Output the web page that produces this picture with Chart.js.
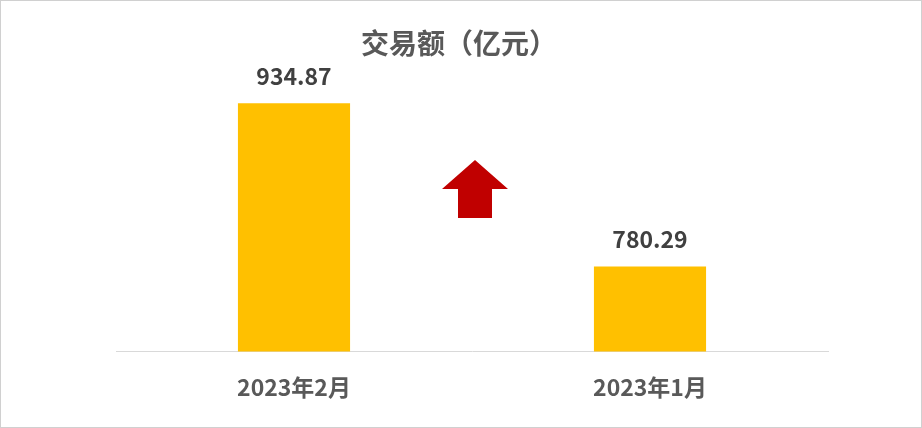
<!DOCTYPE html>
<html>
<head>
<meta charset="utf-8">
<script src="https://cdn.jsdelivr.net/npm/chart.js@4/dist/chart.umd.min.js"></script>
<style>
    html, body { margin: 0; padding: 0; background: #fff; }
    #wrap {
        width: 922px;
        height: 428px;
        box-sizing: border-box;
        border: 1px solid #D0D0D0;
        position: relative;
    }
</style>
</head>
<body>
<div id="wrap"><canvas id="tradeChart" width="920" height="426"></canvas></div>
<script>
const months = ["2023年2月", "2023年1月"];
const tradeValues = [934.87, 780.29];
const chartTitle = "交易额（亿元）";

const FONT = "'Noto Sans CJK SC', 'Noto Sans', sans-serif";

// title, value labels above bars, red up arrow between the bars
const decorPlugin = {
    id: "decor",
    afterDatasetsDraw(chart) {
        const ctx = chart.ctx;
        const meta = chart.getDatasetMeta(0);
        ctx.save();

        ctx.fillStyle = "#595959";
        ctx.font = "bold 28px " + FONT;
        ctx.textAlign = "center";
        ctx.textBaseline = "middle";
        ctx.fillText(chartTitle, chart.width / 2 - 2, 42);

        ctx.fillStyle = "#404040";
        ctx.font = "bold 23px " + FONT;
        ctx.textBaseline = "alphabetic";
        meta.data.forEach((bar, i) => {
            ctx.fillText(tradeValues[i].toFixed(2), bar.x, bar.y - 18.5);
        });

        // arrow
        const xs = chart.scales.x;
        const cx = (xs.getPixelForValue(0) + xs.getPixelForValue(1)) / 2 + 3;
        const tipY = chart.chartArea.top + 95;
        const headY = tipY + 29;
        const baseY = tipY + 58;
        ctx.fillStyle = "#C00000";
        ctx.beginPath();
        ctx.moveTo(cx, tipY);
        ctx.lineTo(cx + 33, headY);
        ctx.lineTo(cx + 17, headY);
        ctx.lineTo(cx + 17, baseY);
        ctx.lineTo(cx - 17, baseY);
        ctx.lineTo(cx - 17, headY);
        ctx.lineTo(cx - 33, headY);
        ctx.closePath();
        ctx.fill();
        ctx.restore();
    }
};

new Chart(document.getElementById("tradeChart"), {
    type: "bar",
    data: {
        labels: months,
        datasets: [{
            data: tradeValues,
            backgroundColor: "#FFC000",
            barPercentage: 0.63,
            categoryPercentage: 0.5
        }]
    },
    options: {
        responsive: false,
        animation: false,
        layout: {
            padding: { left: 115, right: 93, top: 64, bottom: 4 }
        },
        plugins: {
            legend: { display: false },
            tooltip: { enabled: false },
            title: { display: false }
        },
        scales: {
            x: {
                grid: { display: false, drawTicks: false },
                border: { display: true, color: "#D9D9D9", width: 1 },
                ticks: {
                    color: "#595959",
                    font: { family: FONT, size: 23, weight: "bold" },
                    padding: 22
                }
            },
            y: {
                display: false,
                min: 700,
                max: 971
            }
        }
    },
    plugins: [decorPlugin]
});
</script>
</body>
</html>
